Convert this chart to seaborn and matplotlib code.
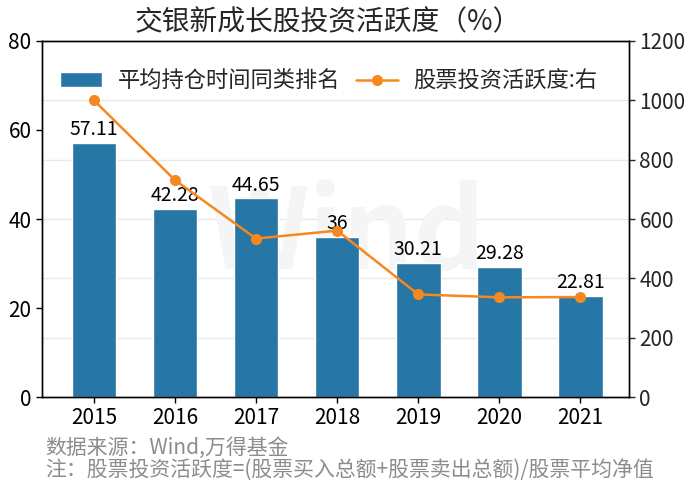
import numpy as np
import pandas as pd
import matplotlib
matplotlib.use("Agg")
import matplotlib.pyplot as plt
import seaborn as sns

# Data
years = ["2015", "2016", "2017", "2018", "2019", "2020", "2021"]
rank_values = [57.11, 42.28, 44.65, 36, 30.21, 29.28, 22.81]
activity_values = [1000, 731, 534, 561, 346, 336, 337]
left_ticks = [0, 20, 40, 60, 80]
right_ticks = [0, 200, 400, 600, 800, 1000, 1200]

bar_name = "平均持仓时间同类排名"
line_name = "股票投资活跃度:右"
title = "交银新成长股投资活跃度（%）"
note1 = "数据来源：Wind,万得基金"
note2 = "注：股票投资活跃度=(股票买入总额+股票卖出总额)/股票平均净值"

BAR_COLOR = "#2676a6"
LINE_COLOR = "#f5891f"

sns.set_style("white")
plt.rcParams['font.family'] = ['Noto Sans CJK SC', 'DejaVu Sans']
plt.rcParams['axes.unicode_minus'] = False

df = pd.DataFrame({"year": years, "rank": rank_values,
                   "activity": activity_values, "pos": np.arange(len(years))})

fig = plt.figure(figsize=(7, 4.92), dpi=100)
ax = fig.add_axes([0.06, 0.193, 0.8386, 0.7237])

# gridlines follow the right axis, drawn behind the bars
ratio = right_ticks[-1] / left_ticks[-1]
for v in right_ticks[1:-1]:
    ax.axhline(v / ratio, color="#e8e8e8", lw=1, zorder=0)

sns.barplot(data=df, x="year", y="rank", color=BAR_COLOR, width=0.55,
            saturation=1, ax=ax, label=bar_name, zorder=2)
ax.bar_label(ax.containers[0], labels=[f"{v:g}" for v in rank_values],
             padding=2, fontsize=14, color="black")
ax.set_ylim(0, left_ticks[-1])
ax.set_yticks(left_ticks)
ax.set_xlim(-0.64, 6.6)
ax.set_xlabel("")
ax.set_ylabel("")
ax.tick_params(axis="both", labelsize=15, length=4, width=1, direction="out",
               colors="black", left=True, bottom=True)

ax2 = ax.twinx()
sns.lineplot(data=df, x="pos", y="activity", color=LINE_COLOR, lw=1.8,
             marker="o", markersize=8, markeredgewidth=0, ax=ax2, label=line_name)
ax2.set_ylim(0, right_ticks[-1])
ax2.set_yticks(right_ticks)
ax2.set_ylabel("")
ax2.tick_params(axis="y", labelsize=15, length=4, width=1, direction="out", right=True)

for a in (ax, ax2):
    for s in a.spines.values():
        s.set_color("black")
        s.set_linewidth(1)

# combined legend
h1, l1 = ax.get_legend_handles_labels()
h2, l2 = ax2.get_legend_handles_labels()
for a in (ax, ax2):
    if a.get_legend():
        a.get_legend().remove()
ax2.legend(h1 + h2, l1 + l2, loc="upper left", bbox_to_anchor=(0.0, 0.97),
           borderaxespad=0.4, ncol=2, frameon=False, fontsize=16,
           handlelength=1.9, columnspacing=0.7, handletextpad=0.7)

# faint watermark
ax.text(0.52, 0.45, "Wind", transform=ax.transAxes, fontsize=80,
        fontweight="bold", color="#f5f5f5", ha="center", va="center", zorder=1)

fig.text(0.468, 0.955, title, fontsize=20, ha="center", va="center")
fig.text(0.065, 0.09, note1, fontsize=15, color="#8c8c8c", ha="left", va="center")
fig.text(0.065, 0.043, note2, fontsize=15, color="#8c8c8c", ha="left", va="center")

fig.savefig("out.png", dpi=100)
